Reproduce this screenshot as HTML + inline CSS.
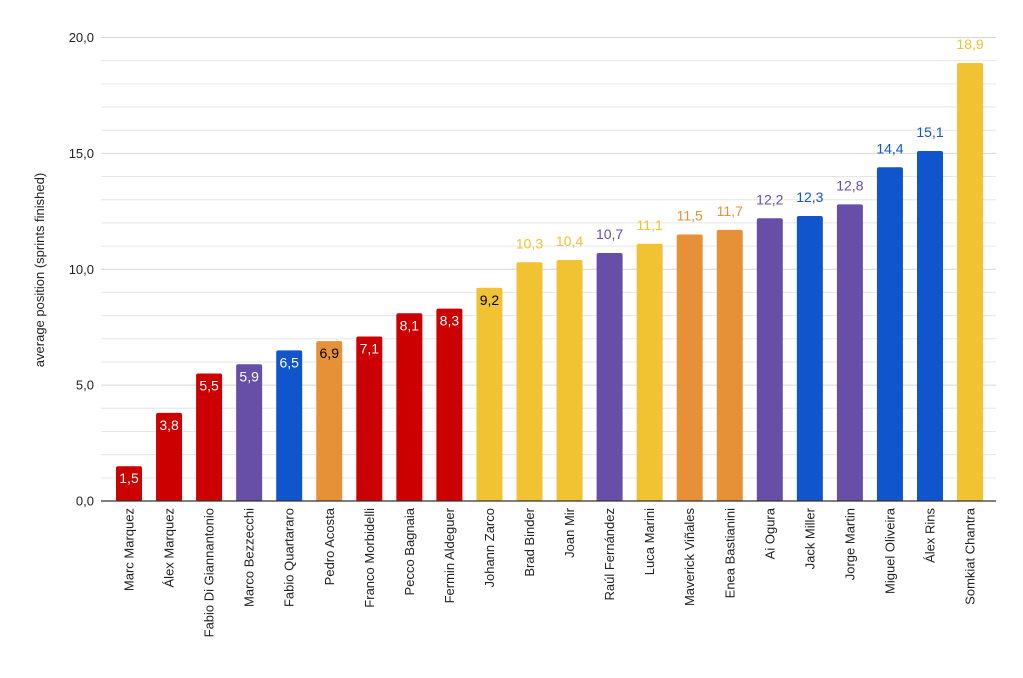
<!DOCTYPE html>
<html><head><meta charset="utf-8"><style>
html,body{margin:0;padding:0;background:#fff;}
svg{display:block;font-family:"Liberation Sans",Arial,sans-serif;}
</style></head><body>
<svg width="1023" height="678" viewBox="0 0 1023 678" xmlns="http://www.w3.org/2000/svg">
<g id="grid"></g>
<g id="bars"></g>
<line x1="101" y1="501" x2="996" y2="501" stroke="#333" stroke-width="1.2"/>
<text x="44" y="270" transform="rotate(-90 44 270)" text-anchor="middle" font-size="13" fill="#222">average position (sprints finished)</text>
<script>
var ns="http://www.w3.org/2000/svg";
function el(t,a,p,txt){var e=document.createElementNS(ns,t);for(var k in a)e.setAttribute(k,a[k]);if(txt!=null)e.textContent=txt;p.appendChild(e);return e;}
var g=document.getElementById('grid'),b=document.getElementById('bars');
var y0=501,u=(501-37.5)/20;
for(var i=1;i<=20;i++){var y=y0-i*u;el('line',{x1:101,x2:996,y1:y,y2:y,stroke:i%5==0?'#d6d6d6':'#e6e6e6','stroke-width':1},g);}
for(var i=0;i<=20;i+=5){el('text',{x:94,y:y0-i*u+4.5,'text-anchor':'end','font-size':13,fill:'#222'},g,i+',0');}
var R='#cc0000',P='#674ea7',B='#1155cc',O='#e69138',Y='#f1c232';
var d=[["Marc Marquez",1.5,R],["Álex Marquez",3.8,R],["Fabio Di Giannantonio",5.5,R],["Marco Bezzecchi",5.9,P],["Fabio Quartararo",6.5,B],["Pedro Acosta",6.9,O],["Franco Morbidelli",7.1,R],["Pecco Bagnaia",8.1,R],["Fermin Aldeguer",8.3,R],["Johann Zarco",9.2,Y],["Brad Binder",10.3,Y],["Joan Mir",10.4,Y],["Raúl Fernández",10.7,P],["Luca Marini",11.1,Y],["Maverick Viñales",11.5,O],["Enea Bastianini",11.7,O],["Ai Ogura",12.2,P],["Jack Miller",12.3,B],["Jorge Martin",12.8,P],["Miguel Oliveira",14.4,B],["Álex Rins",15.1,B],["Somkiat Chantra",18.9,Y]];
d.forEach(function(r,i){
 var cx=129+i*40.05,h=r[1]*u,top=y0-h;
 el('path',{d:'M'+(cx-13)+','+y0+'V'+(top+2)+'Q'+(cx-13)+','+top+' '+(cx-11)+','+top+'H'+(cx+11)+'Q'+(cx+13)+','+top+' '+(cx+13)+','+(top+2)+'V'+y0+'Z',fill:r[2]},b);
 var lab=r[1].toFixed(1).replace('.',',');
 if(i<10){el('text',{x:cx,y:top+17,'text-anchor':'middle','font-size':14,fill:(r[2]==O||r[2]==Y)?'#000':'#fff'},b,lab);}
 else{el('text',{x:cx,y:top-14,'text-anchor':'middle','font-size':14,fill:r[2]},b,lab);}
 el('text',{x:cx+4.5,y:508,'text-anchor':'end','font-size':13,fill:'#222',transform:'rotate(-90 '+(cx+4.5)+' 508)'},b,r[0]);
});
</script>
</svg>
</body></html>
